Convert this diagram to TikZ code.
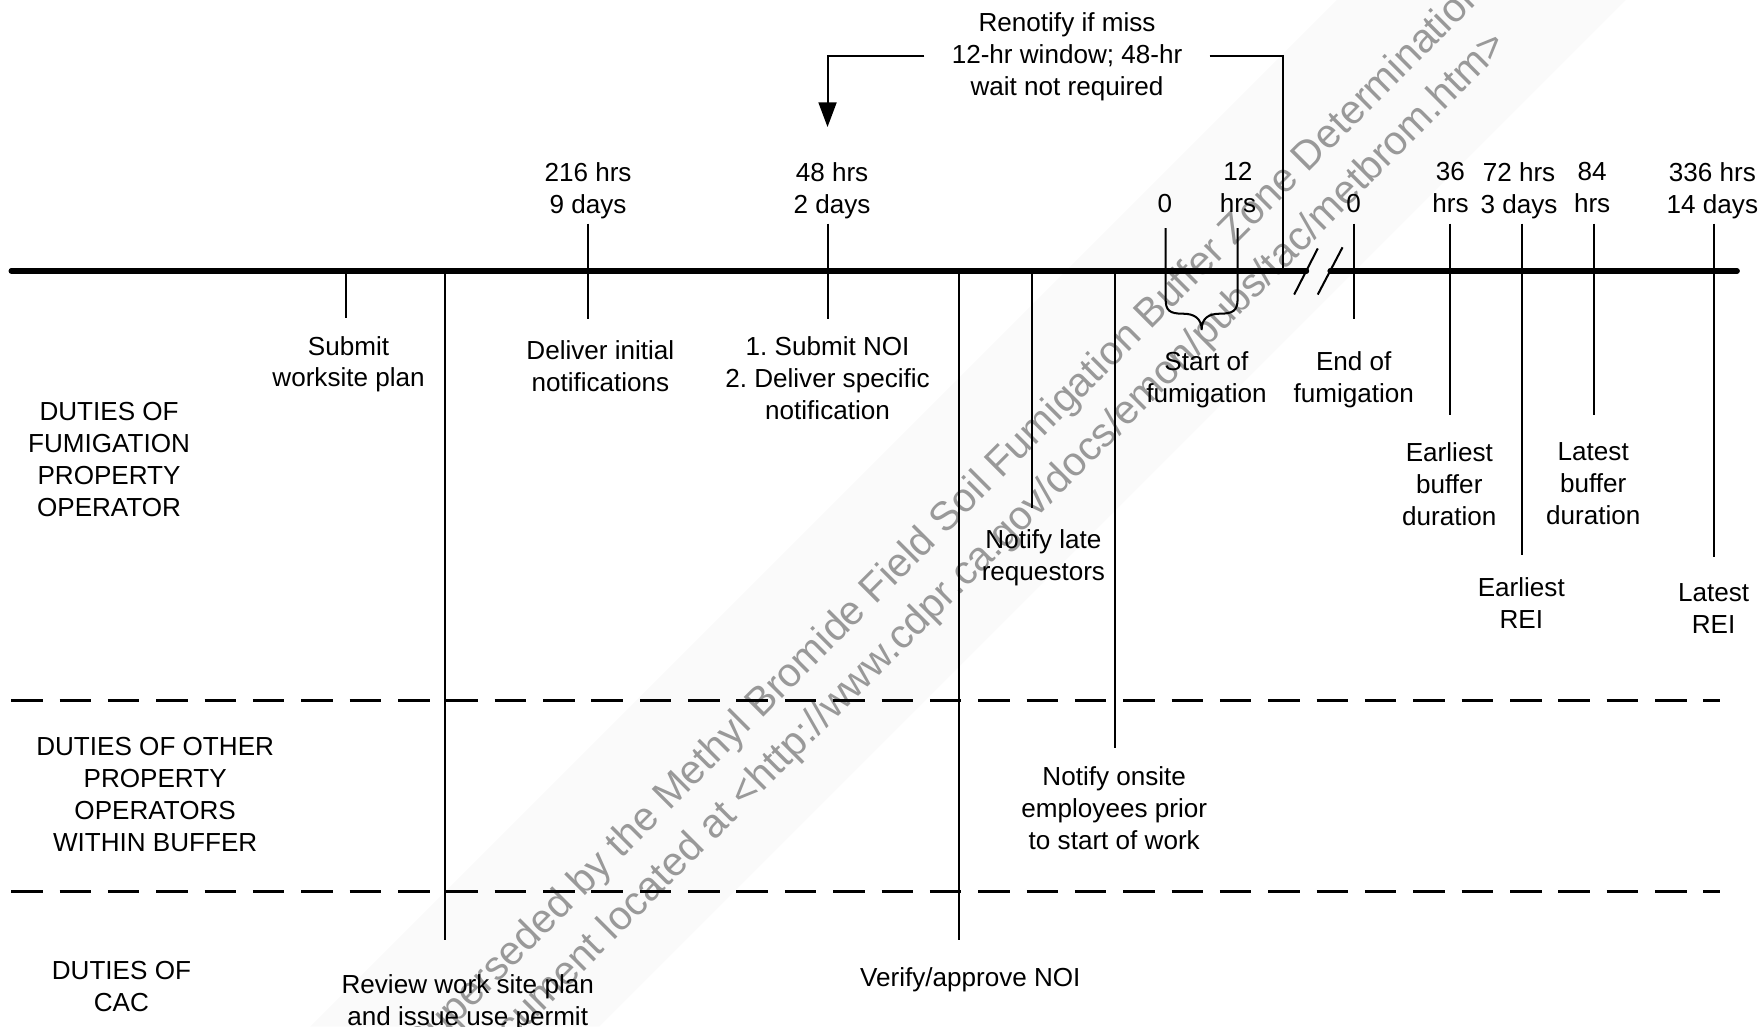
\documentclass[tikz,border=0pt]{standalone}
\usepackage{fontspec}
\setmainfont{Liberation Sans}
\usetikzlibrary{arrows.meta}

\begin{document}
\begin{tikzpicture}[
  x=0.5pt, y=-0.5pt,
  font=\fontsize{11.6}{14.2}\selectfont,
  every node/.style={align=center, inner sep=0pt},
  timeLine/.style={line width=2.4pt, line cap=round},
  tickLine/.style={line width=0.9pt},
  laneLine/.style={line width=1.2pt, dash pattern=on 14pt off 7.5pt},
  renotifyLine/.style={line width=0.9pt},
  renotifyArrow/.style={line width=0.9pt, -{Triangle[length=11pt,width=8pt]}},
  braceLine/.style={line width=0.9pt},
  breakMark/.style={line width=0.9pt},
  laneLabel/.style={align=center},
  watermark/.style={rotate=45, text=black!40, font=\fontsize{18}{22}\selectfont},
  watermarkBand/.style={fill=black!2, draw=none}]

  \useasboundingbox (0,0) rectangle (1568,913);

  % watermark behind everything
  \fill[watermarkBand] (1189,0) -- (1446,0) -- (533,913) -- (276,913) -- cycle;
  \node[watermark] (wmTop) at (800,504) {\llap{Superseded by the Methyl Bromide }Field\rlap{ Soil Fumigation Buffer Zone Determination}};
  \node[watermark] (wmBottom) at (821,549) {\llap{document located at <http://www.}cdpr\rlap{.ca.gov/docs/emon/pubs/tac/metbrom.htm>}};

  % time line with break
  \coordinate (tlStart) at (10,241);
  \coordinate (tlBreakL) at (1162,241);
  \coordinate (tlBreakR) at (1183,241);
  \coordinate (tlEnd) at (1545,241);
  \draw[timeLine] (tlStart) -- (tlBreakL);
  \draw[timeLine] (tlBreakR) -- (tlEnd);
  \draw[breakMark] (1151,262) -- (1172,221);
  \draw[breakMark] (1172,262) -- (1194,220);

  % lanes
  \draw[laneLine] (10,623) -- (1530,623);
  \draw[laneLine] (10,793) -- (1530,793);

  \node[laneLabel] (laneFumig) at (97,408.5) {DUTIES OF\\FUMIGATION\\PROPERTY\\OPERATOR};
  \node[laneLabel] (laneOther) at (138,706.5) {DUTIES OF OTHER\\PROPERTY\\OPERATORS\\WITHIN BUFFER};
  \node[laneLabel] (laneCac) at (108,877) {DUTIES OF\\CAC};

  % hours above the line
  \node (h216) at (523,169.5) {216 hrs\\9 days};
  \node (h48) at (740,169.5) {48 hrs\\2 days};
  \node (hStart) at (1036,181) {0};
  \node (h12) at (1101,166.5) {12\\hrs};
  \node (hEnd) at (1204,181) {0};
  \node (h36) at (1290,166.5) {36\\hrs};
  \node (h72) at (1351,169.5) {72 hrs\\3 days};
  \node (h84) at (1416,166.5) {84\\hrs};
  \node (h336) at (1523,169.5) {336 hrs\\14 days};

  % duties below the line
  \node (submitPlan) at (310,324) {Submit\\worksite plan};
  \node (deliverInit) at (534,326) {Deliver initial\\notifications};
  \node (submitNoi) at (736,336) {1.\ Submit NOI\\2.\ Deliver specific\\notification};
  \node (startFum) at (1073,338) {Start of\\fumigation};
  \node (endFum) at (1204,338) {End of\\fumigation};
  \node (earlyBuf) at (1289,430.5) {Earliest\\buffer\\duration};
  \node (lateBuf) at (1417,430.5) {Latest\\buffer\\duration};
  \node (earlyRei) at (1353,536) {Earliest\\REI};
  \node (lateRei) at (1524,541) {Latest\\REI};
  \node (notifyLate) at (928,496) {Notify late\\requestors};
  \node (notifyOnsite) at (991,718.5) {Notify onsite\\employees prior\\to start of work};
  \node (verifyNoi) at (863,871) {Verify/approve NOI};
  \node (reviewPlan) at (416,892) {Review work site plan\\and issue use permit};

  % ticks
  \draw[tickLine] (308,241) -- (308,283);
  \draw[tickLine] (396,241) -- (396,836);
  \draw[tickLine] (523,199) -- (523,284);
  \draw[tickLine] (736,199) -- (736,284);
  \draw[tickLine] (853,241) -- (853,836);
  \draw[tickLine] (917.5,241) -- (917.5,452);
  \draw[tickLine] (991.5,241) -- (991.5,665);
  \draw[tickLine] (1204.5,199) -- (1204.5,284);
  \draw[tickLine] (1289.6,199) -- (1289.6,369);
  \draw[tickLine] (1354,199) -- (1354,494);
  \draw[tickLine] (1417.6,199) -- (1417.6,369);
  \draw[tickLine] (1524,199) -- (1524,495);

  % start of fumigation brace
  \draw[braceLine] (1036.7,203) -- (1036.7,266)
    .. controls (1036.7,276) and (1040,279) .. (1052,279)
    .. controls (1062,279) and (1068.7,283) .. (1068.7,293.5)
    .. controls (1068.7,283) and (1075,279) .. (1085,279)
    .. controls (1097,279) and (1100.7,276) .. (1100.7,266) -- (1100.7,203);

  % renotify loop back to 48 hrs
  \node (renotify) at (949,50.5) {Renotify if miss\\12-hr window; 48-hr\\wait not required};
  \coordinate (rnTurn) at (1141.3,49.5);
  \coordinate (rnFoot) at (1141.3,241);
  \coordinate (rnCorner) at (736,49.5);
  \coordinate (rnTip) at (736,113);
  \draw[renotifyLine] ([xshift=12pt]renotify.east |- rnTurn) -- (rnTurn) -- (rnFoot);
  \draw[renotifyArrow] ([xshift=-12pt]renotify.west |- rnCorner) -- (rnCorner) -- (rnTip);

\end{tikzpicture}
\end{document}
